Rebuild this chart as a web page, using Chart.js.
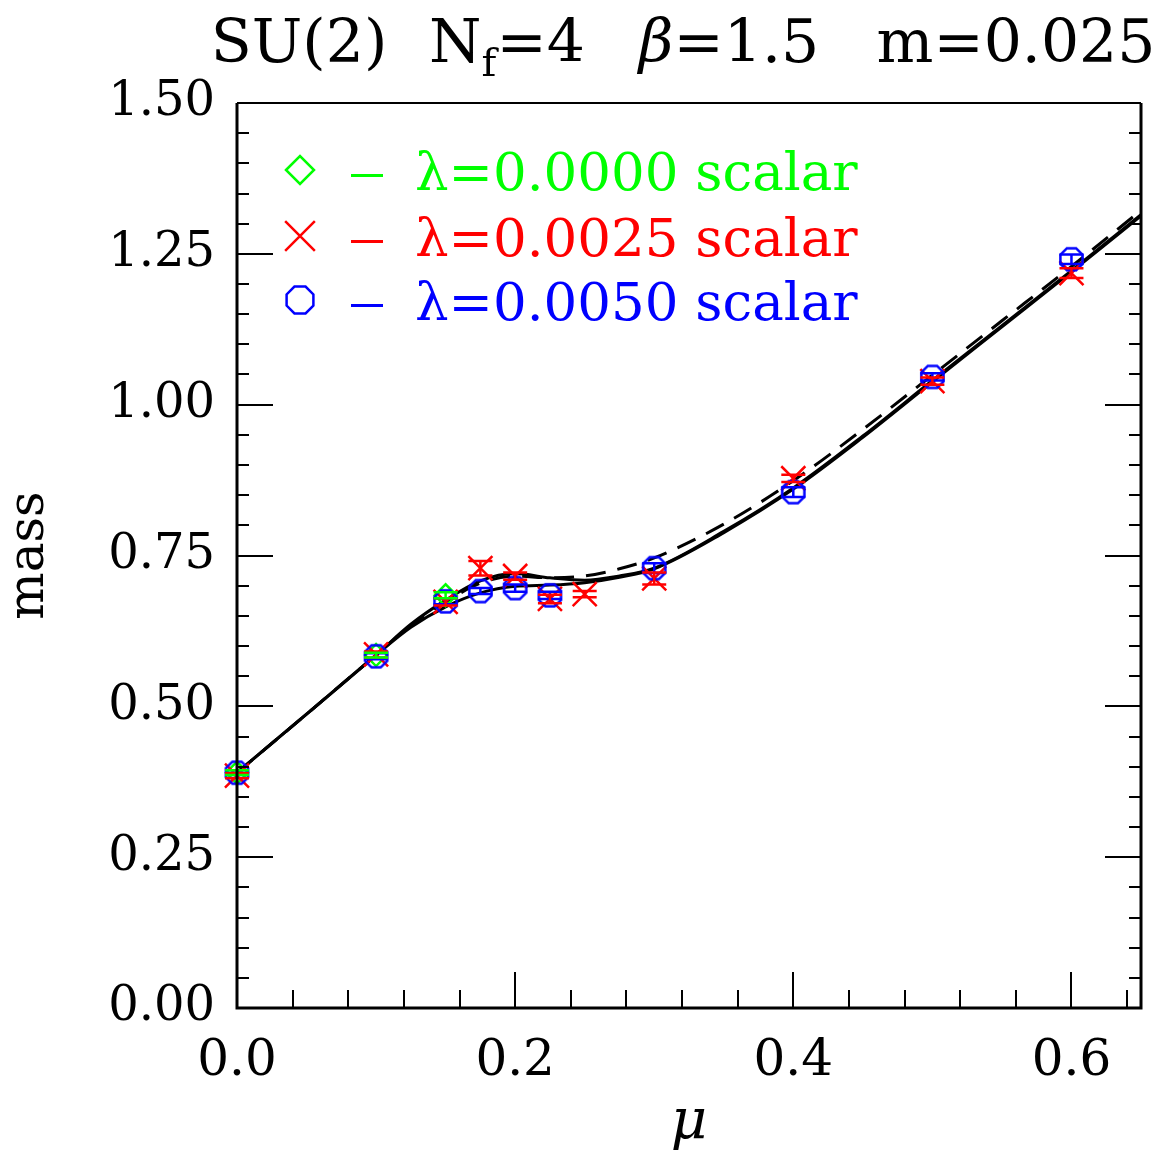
<!DOCTYPE html>
<html>
<head>
<meta charset="utf-8">
<script src="https://cdn.jsdelivr.net/npm/chart.js@4.4.1/dist/chart.umd.min.js"></script>
<style>
body { margin:0; background:#fff; }
#wrap { width:1174px; height:1157px; position:relative; }
</style>
</head>
<body>
<div id="wrap"><canvas id="chart"></canvas></div>
<script>
// fit curves
const muFit   = [0, 0.05, 0.1, 0.125, 0.15, 0.175, 0.2, 0.225, 0.25, 0.275, 0.3, 0.35, 0.4, 0.45, 0.5, 0.55, 0.6, 0.65];
const fitA    = [0.390, 0.487, 0.585, 0.636, 0.676, 0.708, 0.720, 0.713, 0.709, 0.716, 0.729, 0.790, 0.862, 0.948, 1.040, 1.131, 1.222, 1.315];
const fitB    = [0.390, 0.487, 0.585, 0.631, 0.665, 0.688, 0.699, 0.701, 0.705, 0.714, 0.728, 0.788, 0.860, 0.946, 1.038, 1.129, 1.220, 1.313];
const fitDash = [0.390, 0.487, 0.585, 0.634, 0.673, 0.704, 0.716, 0.713, 0.716, 0.728, 0.746, 0.802, 0.874, 0.959, 1.049, 1.139, 1.229, 1.322];

// lambda = 0.0000
const muL0  = [0, 0.1, 0.15];
const mL0   = [0.390, 0.585, 0.684];
const eL0   = [0.004, 0.004, 0.005];
// lambda = 0.0025
const muL1  = [0, 0.1, 0.15, 0.175, 0.2, 0.225, 0.25, 0.3, 0.4, 0.5, 0.6];
const mL1   = [0.385, 0.586, 0.673, 0.729, 0.716, 0.678, 0.686, 0.712, 0.878, 1.039, 1.218];
const eL1   = [0.004, 0.005, 0.006, 0.012, 0.006, 0.007, 0.005, 0.010, 0.006, 0.006, 0.008];
// lambda = 0.0050
const muL2  = [0, 0.1, 0.15, 0.175, 0.2, 0.225, 0.3, 0.4, 0.5, 0.6];
const mL2   = [0.390, 0.583, 0.674, 0.691, 0.696, 0.684, 0.729, 0.855, 1.046, 1.241];
const eL2   = [0.004, 0.005, 0.005, 0.005, 0.006, 0.006, 0.008, 0.008, 0.006, 0.008];

const legendLabels = ['\u03bb=0.0000 scalar', '\u03bb=0.0025 scalar', '\u03bb=0.0050 scalar'];
const xTicks = [0, 0.2, 0.4, 0.6];
const yTicks = [0, 0.25, 0.5, 0.75, 1.0, 1.25, 1.5];

const GREEN = '#00ff00', RED = '#ff0000', BLUE = '#0000ff';
const SERIF = '"DejaVu Serif", serif';

function pts(xs, ys) { return xs.map((x, i) => ({x: x, y: ys[i]})); }

function octagon(color, r, lw) {
  const s = Math.ceil(2 * r + lw + 4);
  const c = document.createElement('canvas');
  c.width = c.height = s;
  const g = c.getContext('2d');
  g.strokeStyle = color; g.lineWidth = lw;
  g.beginPath();
  for (let i = 0; i < 8; i++) {
    const a = Math.PI / 8 + i * Math.PI / 4;
    const px = s / 2 + r * Math.cos(a), py = s / 2 + r * Math.sin(a);
    if (i) g.lineTo(px, py); else g.moveTo(px, py);
  }
  g.closePath(); g.stroke();
  return c;
}
const octPlot = octagon(BLUE, 12, 2.5);
const octLeg = octagon(BLUE, 14.5, 2.5);

function fitLine(data, dash) {
  return { type: 'line', data: pts(muFit, data), borderColor: '#000', borderWidth: 3,
    borderDash: dash || [], pointRadius: 0, cubicInterpolationMode: 'monotone', fill: false, order: 2 };
}
function points(xs, ys, es, color, style, r) {
  return { type: 'scatter', data: pts(xs, ys), err: es, borderColor: color,
    backgroundColor: 'rgba(0,0,0,0)', pointStyle: style, pointRadius: r, pointHoverRadius: r,
    pointBorderWidth: 2.5, showLine: false, clip: false, order: 1 };
}

const errorBars = {
  id: 'errorBars',
  afterDatasetsDraw(chart) {
    const ctx = chart.ctx, xs = chart.scales.x, ys = chart.scales.y;
    chart.data.datasets.forEach(ds => {
      if (!ds.err) return;
      ctx.save();
      ctx.strokeStyle = ds.borderColor; ctx.lineWidth = 2.5;
      ds.data.forEach((p, i) => {
        const px = xs.getPixelForValue(p.x);
        const y1 = ys.getPixelForValue(p.y - ds.err[i]);
        const y2 = ys.getPixelForValue(p.y + ds.err[i]);
        ctx.beginPath();
        ctx.moveTo(px, y1); ctx.lineTo(px, y2);
        ctx.moveTo(px - 12, y1); ctx.lineTo(px + 12, y1);
        ctx.moveTo(px - 12, y2); ctx.lineTo(px + 12, y2);
        ctx.stroke();
      });
      ctx.restore();
    });
  }
};

const frame = {
  id: 'frame',
  afterDraw(chart) {
    const ctx = chart.ctx, a = chart.chartArea, xs = chart.scales.x, ys = chart.scales.y;
    ctx.save();
    ctx.strokeStyle = '#000';
    ctx.lineWidth = 3;
    ctx.beginPath();
    ctx.moveTo(a.left, a.top); ctx.lineTo(a.left, a.bottom);
    ctx.lineTo(a.right, a.bottom); ctx.lineTo(a.right, a.top);
    ctx.stroke();
    ctx.lineWidth = 2;
    ctx.beginPath(); ctx.moveTo(a.left, a.top); ctx.lineTo(a.right, a.top); ctx.stroke();
    // y ticks, left and right
    for (let k = 0; k <= 30; k++) {
      const v = k * 0.05;
      const py = Math.round(ys.getPixelForValue(v));
      const len = (k % 5 === 0) ? 36 : 12;
      ctx.beginPath();
      ctx.moveTo(a.left, py); ctx.lineTo(a.left + len, py);
      ctx.moveTo(a.right, py); ctx.lineTo(a.right - len, py);
      ctx.stroke();
    }
    // x ticks, bottom
    for (let k = 0; k <= 16; k++) {
      const v = k * 0.04;
      const px = Math.round(xs.getPixelForValue(v));
      const len = (k % 5 === 0) ? 36 : 18;
      ctx.beginPath();
      ctx.moveTo(px, a.bottom); ctx.lineTo(px, a.bottom - len);
      ctx.stroke();
    }
    ctx.restore();
  }
};

function drawRuns(ctx, runs, cx, base) {
  let w = 0;
  runs.forEach(r => { ctx.font = r.f; w += ctx.measureText(r.t).width; });
  let x = cx - w / 2;
  runs.forEach(r => {
    ctx.font = r.f;
    ctx.fillText(r.t, x, base + (r.dy || 0));
    x += ctx.measureText(r.t).width;
  });
}

const titleAndLegend = {
  id: 'titleAndLegend',
  afterDraw(chart) {
    const ctx = chart.ctx;
    ctx.save();
    ctx.fillStyle = '#000';
    ctx.textBaseline = 'alphabetic';
    const big = '60px ' + SERIF, sub = '40px ' + SERIF, ital = 'italic 60px ' + SERIF;
    drawRuns(ctx, [{t: 'SU(2)', f: big}], 299, 62);
    drawRuns(ctx, [{t: 'N', f: big}, {t: 'f', f: sub, dy: 14}, {t: '=4', f: big}], 507, 62);
    drawRuns(ctx, [{t: '\u03b2', f: ital}, {t: '=1.5', f: big}], 729, 62);
    drawRuns(ctx, [{t: 'm=0.025', f: big}], 1016, 62);

    // legend
    const rows = [
      {c: GREEN, y: 170, p: {pointStyle: 'rectRot', radius: 14, borderWidth: 2.5}},
      {c: RED, y: 236, p: {pointStyle: 'crossRot', radius: 21, borderWidth: 2.5}},
      {c: BLUE, y: 300, p: {pointStyle: octLeg, radius: 14, borderWidth: 2.5}}
    ];
    rows.forEach((r, i) => {
      ctx.strokeStyle = r.c; ctx.fillStyle = 'rgba(0,0,0,0)'; ctx.lineWidth = 2.5;
      Chart.helpers.drawPoint(ctx, Object.assign({rotation: 0}, r.p), 300, r.y);
      ctx.fillStyle = r.c;
      ctx.fillRect(351, r.y + 4, 32, 3);
      ctx.font = '53px ' + SERIF;
      ctx.fillText(legendLabels[i], 415, r.y + 20);
    });
    ctx.restore();
  }
};

new Chart(document.getElementById('chart'), {
  data: {
    datasets: [
      points(muL2, mL2, eL2, BLUE, octPlot, 12),
      points(muL1, mL1, eL1, RED, 'crossRot', 17),
      points(muL0, mL0, eL0, GREEN, 'rectRot', 11),
      fitLine(fitA),
      fitLine(fitB),
      fitLine(fitDash, [20, 12])
    ]
  },
  options: {
    responsive: true,
    maintainAspectRatio: false,
    animation: false,
    events: [],
    layout: { padding: { top: 103, right: 33, left: 0, bottom: 0 } },
    plugins: { legend: { display: false }, tooltip: { enabled: false }, title: { display: false } },
    scales: {
      x: {
        type: 'linear', min: 0, max: 0.65,
        afterBuildTicks: s => { s.ticks = xTicks.map(v => ({value: v})); },
        afterFit: s => { s.height = 149; },
        grid: { display: false, drawTicks: false },
        border: { display: false },
        ticks: { color: '#000', padding: 24, font: { family: SERIF, size: 50 },
          callback: v => v.toFixed(1), maxRotation: 0, autoSkip: false },
        title: { display: true, text: '\u03bc', color: '#000', padding: 0,
          font: { family: SERIF, size: 56, style: 'italic' } }
      },
      y: {
        type: 'linear', min: 0, max: 1.5,
        afterBuildTicks: s => { s.ticks = yTicks.map(v => ({value: v})); },
        afterFit: s => { s.width = 237; },
        grid: { display: false, drawTicks: false },
        border: { display: false },
        ticks: { color: '#000', padding: 22, font: { family: SERIF, size: 48 },
          callback: v => v.toFixed(2), autoSkip: false },
        title: { display: true, text: 'mass', color: '#000', padding: 0,
          font: { family: SERIF, size: 50 } }
      }
    }
  },
  plugins: [errorBars, frame, titleAndLegend]
});
</script>
</body>
</html>
